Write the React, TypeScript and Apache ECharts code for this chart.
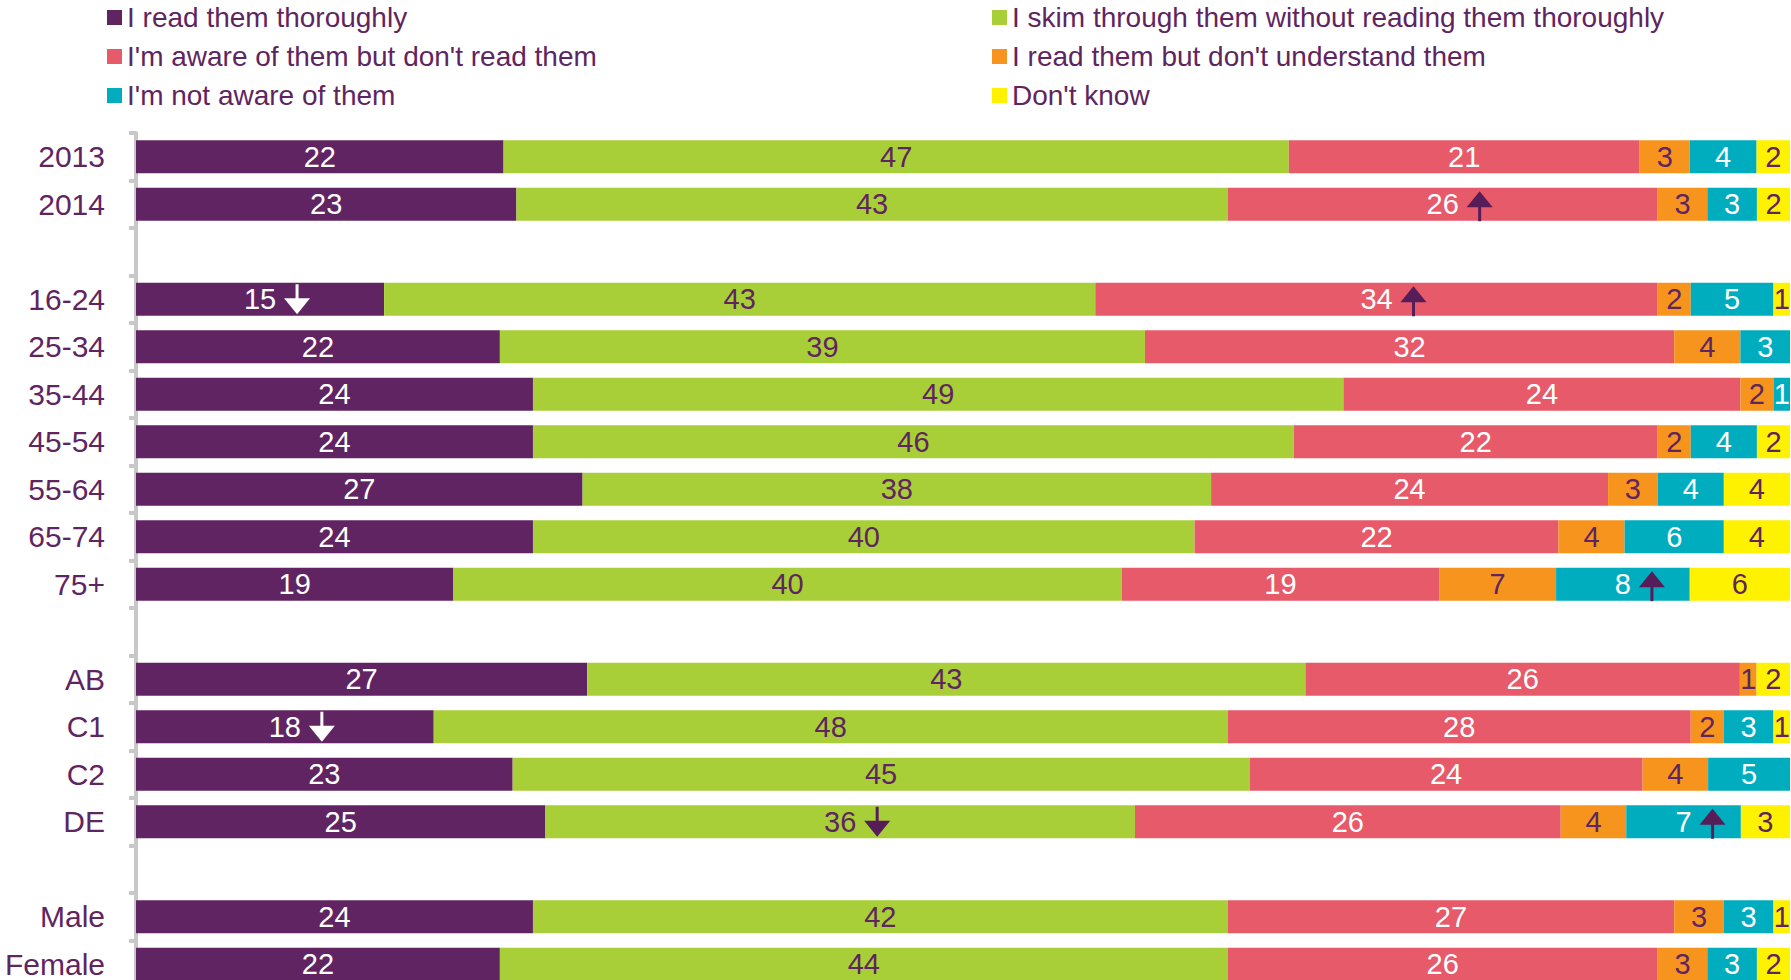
import React, { useEffect, useRef } from "react";
import * as echarts from "echarts";

const categories = ["2013", "2014", " ", "16-24", "25-34", "35-44", "45-54", "55-64", "65-74", "75+", "  ", "AB", "C1", "C2", "DE", "   ", "Male", "Female"];

const seriesNames = [
  "I read them thoroughly",
  "I skim through them without reading them thoroughly",
  "I'm aware of them but don't read them",
  "I read them but don't understand them",
  "I'm not aware of them",
  "Don't know",
];

const readThoroughly = [22, 23, null, 15, 22, 24, 24, 27, 24, 19, null, 27, 18, 23, 25, null, 24, 22];
const skimThrough = [47, 43, null, 43, 39, 49, 46, 38, 40, 40, null, 43, 48, 45, 36, null, 42, 44];
const awareNotRead = [21, 26, null, 34, 32, 24, 22, 24, 22, 19, null, 26, 28, 24, 26, null, 27, 26];
const readNotUnderstand = [3, 3, null, 2, 4, 2, 2, 3, 4, 7, null, 1, 2, 4, 4, null, 3, 3];
const notAware = [4, 3, null, 5, 3, 1, 4, 4, 6, 8, null, 0, 3, 5, 7, null, 3, 3];
const dontKnow = [2, 2, null, 1, 0, 0, 2, 4, 4, 6, null, 2, 1, 0, 3, null, 1, 2];

// significance arrows: category, series index, direction
const arrowMarks = [
  { category: "2014", series: 2, direction: "up" },
  { category: "16-24", series: 0, direction: "down" },
  { category: "16-24", series: 2, direction: "up" },
  { category: "75+", series: 4, direction: "up" },
  { category: "C1", series: 0, direction: "down" },
  { category: "DE", series: 1, direction: "down" },
  { category: "DE", series: 4, direction: "up" },
];

const colors = ["#612462", "#a9cf38", "#e65a6a", "#f7941d", "#00adbf", "#fff200"];
const labelColors = ["#ffffff", "#5f2560", "#ffffff", "#5f2560", "#ffffff", "#5f2560"];
const textPurple = "#5f2560";
const FONT = "'Liberation Sans', Arial, sans-serif";

export default function App() {
  const ref = useRef<HTMLDivElement>(null);
  useEffect(() => {
    if (!ref.current) return;
    const chart = echarts.init(ref.current, undefined, { renderer: "svg" });
    const all = [readThoroughly, skimThrough, awareNotRead, readNotUnderstand, notAware, dontKnow];
    const totals = categories.map((_, i) =>
      all.reduce((s, arr) => s + (arr[i] == null ? 0 : (arr[i] as number)), 0)
    );
    const norm = all.map((arr) =>
      arr.map((v, i) => (v == null || totals[i] === 0 ? null : ((v as number) / totals[i]) * 100))
    );

    const barSeries = all.map((arr, k) => ({
      name: seriesNames[k],
      type: "bar",
      stack: "total",
      barWidth: 33,
      z: 2,
      itemStyle: { color: colors[k] },
      label: {
        show: true,
        position: "inside",
        color: labelColors[k],
        fontSize: 29,
        fontFamily: FONT,
        formatter: (p: any) => {
          const v = arr[p.dataIndex];
          return v == null || v === 0 ? "" : String(v);
        },
      },
      emphasis: { disabled: true },
      data: norm[k].map((v) => (v == null || v === 0 ? "-" : v)),
    }));

    const arrowData = arrowMarks.map((m) => {
      const row = categories.indexOf(m.category);
      let start = 0;
      for (let k = 0; k < m.series; k++) start += (norm[k][row] as number) || 0;
      const center = start + ((norm[m.series][row] as number) || 0) / 2;
      return [center, row, all[m.series][row], m.direction === "up" ? 1 : -1, m.series === 0 ? 1 : 0];
    });

    const legendBase = {
      top: 3.5,
      orient: "vertical",
      padding: 0,
      icon: "rect",
      itemWidth: 15,
      itemHeight: 15,
      itemGap: 11,
      selectedMode: false,
      textStyle: { fontSize: 28, color: textPurple, fontFamily: FONT },
    };

    const option: any = {
      animation: false,
      backgroundColor: "#ffffff",
      legend: [
        { ...legendBase, left: 107, data: [seriesNames[0], seriesNames[2], seriesNames[4]] },
        { ...legendBase, left: 992, data: [seriesNames[1], seriesNames[3], seriesNames[5]] },
      ],
      grid: { left: 136, right: 1, top: 133, height: 855, containLabel: false, outerBoundsMode: "none" },
      xAxis: { type: "value", min: 0, max: 100, show: false },
      yAxis: {
        type: "category",
        inverse: true,
        offset: 4,
        data: categories,
        axisLine: { show: true, lineStyle: { color: "#c8c8c8", width: 4 } },
        axisTick: { show: true, length: 7, lineStyle: { color: "#c8c8c8", width: 4 } },
        axisLabel: { fontSize: 30, color: textPurple, fontFamily: FONT, margin: 27 },
        splitLine: { show: false },
      },
      series: [
        ...barSeries,
        {
          type: "custom",
          name: "arrows",
          coordinateSystem: "cartesian2d",
          encode: { x: 0, y: 1 },
          z: 5,
          silent: true,
          renderItem: (params: any, api: any) => {
            const p = api.coord([api.value(0), api.value(1)]);
            const digits = String(api.value(2)).length;
            const cx = p[0] + digits * 8 + 21;
            const cy = p[1];
            const up = api.value(3) > 0;
            const color = api.value(4) ? "#ffffff" : "#561d58";
            const H = 30, hh = 16, hw = 13, sw = 3;
            const top = up ? cy - 13 : cy - 15;
            const head = up
              ? [[cx - hw, top + hh], [cx, top], [cx + hw, top + hh]]
              : [[cx - hw, top + H - hh], [cx, top + H], [cx + hw, top + H - hh]];
            const stem = up
              ? { x: cx - sw / 2, y: top + hh - 1, width: sw, height: H - hh + 1 }
              : { x: cx - sw / 2, y: top, width: sw, height: H - hh + 1 };
            return {
              type: "group",
              children: [
                { type: "polygon", shape: { points: head }, style: { fill: color } },
                { type: "rect", shape: stem, style: { fill: color } },
              ],
            };
          },
          data: arrowData,
        },
      ],
    };
    chart.setOption(option);
    return () => chart.dispose();
  }, []);
  return (
    <div
      ref={ref}
      style={{ position: "fixed", left: 0, top: 0, width: 1791, height: 980, background: "#fff" }}
    />
  );
}
